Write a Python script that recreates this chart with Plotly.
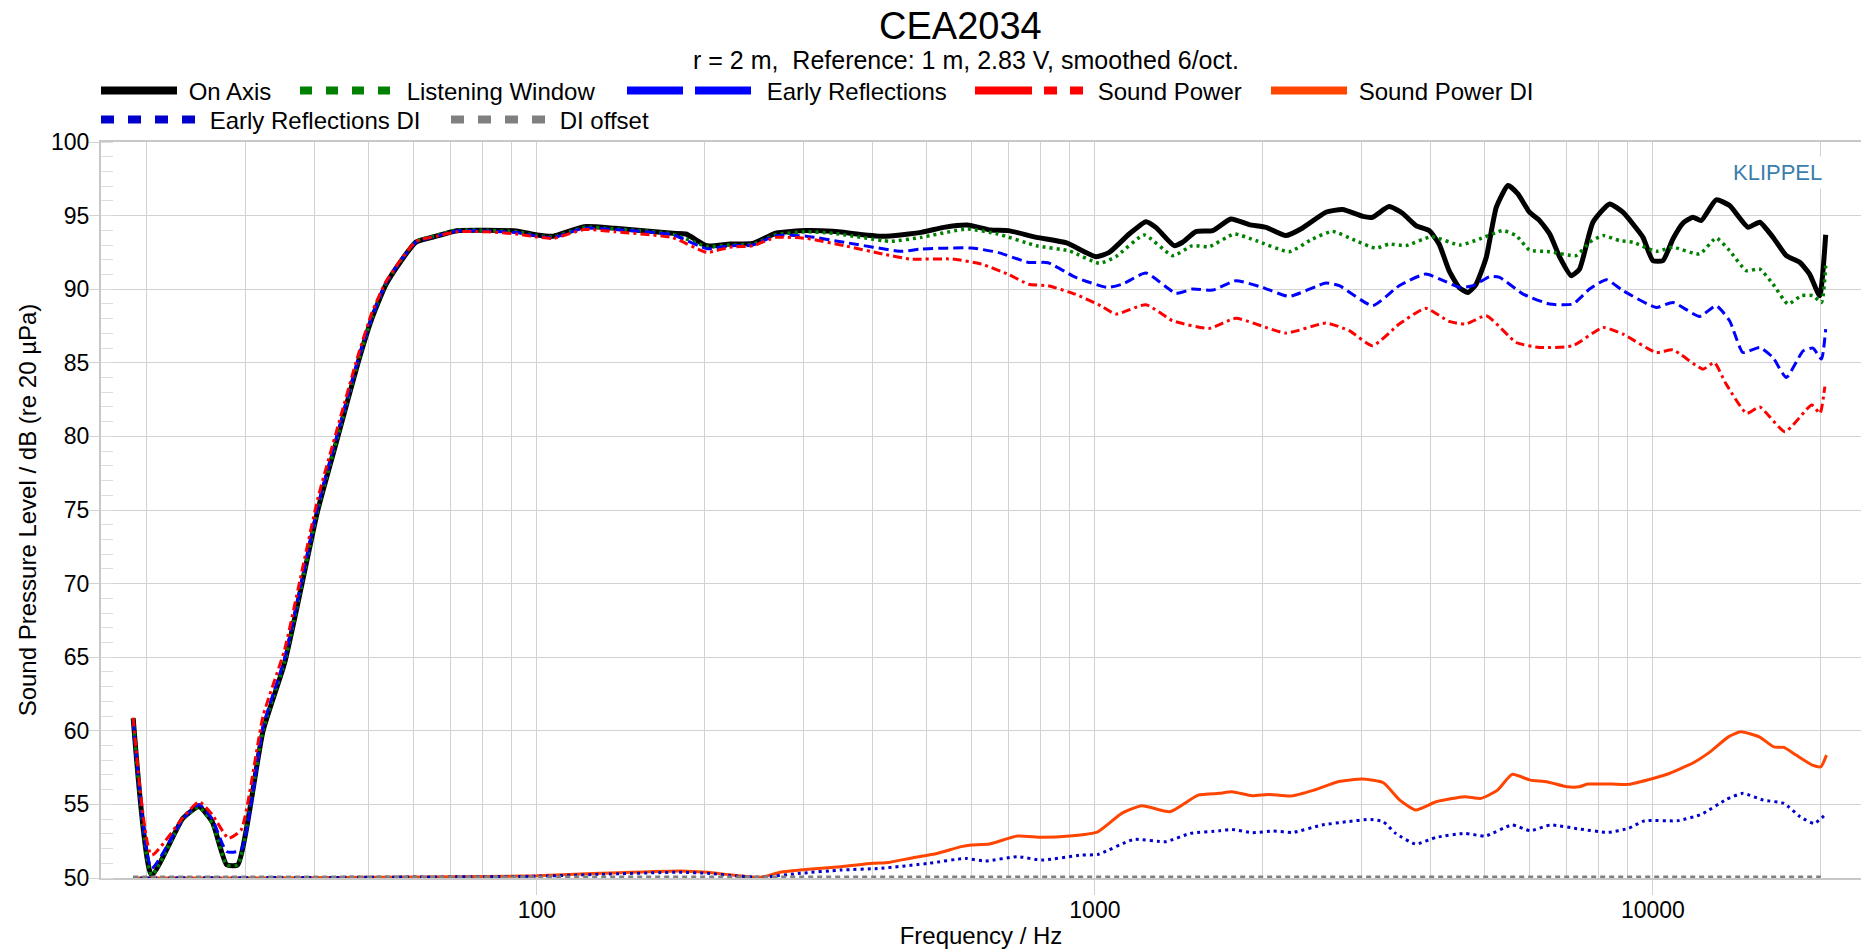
import math
import plotly.graph_objects as go

# ---------------- data ----------------
freq_on = [18.9, 20.4, 23.2, 24.8, 26.2, 27.8, 29.1, 32.3, 35.3, 37.6, 40.5, 44.0, 47.8, 50.6, 53.6, 56.8, 60.7, 66, 71.8, 81.3, 91.9,
           100, 107, 121.5, 138, 175, 185, 201.7, 221.6, 243.8, 268, 304, 339, 417, 488, 536, 590, 650, 700, 786, 890,
           1004, 1061, 1152, 1234, 1286, 1387, 1436, 1517, 1625, 1753, 1890, 2027, 2198, 2356, 2594, 2779, 3020, 3144,
           3366, 3558, 3761, 3972, 4138, 4312, 4494, 4663, 4823, 5028, 5241, 5499, 5728, 6009, 6265, 6532, 6810, 7137,
           7388, 7808, 8366, 8835, 9208, 9596, 10000, 10421, 10860, 11317, 11794, 12206, 12982, 13721, 14801, 15536,
           16411, 17340, 18321, 19090, 19893, 20400]
spl_on = [60.85, 50.2, 54.05, 54.85, 53.8, 50.9, 50.9, 60.0, 64.6, 69.3, 75.0, 80.0, 85.0, 88.0, 90.3, 91.8, 93.2, 93.6, 93.97, 94.0, 93.95,
          93.68, 93.6, 94.25, 94.14, 93.8, 93.75, 92.95, 93.07, 93.11, 93.8, 93.98, 93.93, 93.59, 93.86, 94.2, 94.36, 94.02, 93.98, 93.52, 93.14,
          92.21, 92.5, 93.75, 94.59, 94.2, 92.96, 93.19, 93.91, 93.98, 94.77, 94.39, 94.2, 93.64, 94.16, 95.23, 95.41, 94.95, 94.89,
          95.61, 95.16, 94.32, 93.98, 93.07, 91.26, 90.12, 89.78, 90.35, 92.17, 95.57, 97.04, 96.47, 95.23, 94.66, 93.75, 92.17, 90.92,
          91.37, 94.55, 95.79, 95.23, 94.43, 93.53, 91.94, 91.94, 93.41, 94.48, 94.89, 94.66, 96.07, 95.68, 94.21, 94.55,
          93.53, 92.28, 91.83, 91.03, 89.56, 93.7]

freq_lw = [18.9, 20.4, 23.2, 24.8, 26.2, 27.8, 29.1, 32.3, 35.3, 37.6, 40.5, 44.0, 47.8, 50.6, 53.6, 56.8, 60.7, 66, 71.8, 81.3, 91.9,
           100, 107, 121.5, 138, 175, 201.7, 221.6, 243.8, 268, 304, 339, 417, 431, 488, 590, 670, 786, 900,
           1018, 1090, 1226, 1378, 1496, 1603, 1777, 1944, 2229, 2455, 2664, 2932, 3189, 3366, 3606, 4016, 4507, 4890,
           5386, 5690, 6009, 6532, 7286, 7700, 8140, 8716, 9208, 10138, 10860, 12124, 12982, 13721, 14700, 15536,
           16411, 17460, 18453, 19355, 20046, 20400]
spl_lw = [60.8, 50.2, 54.0, 54.8, 53.7, 50.9, 50.9, 60.05, 64.65, 69.35, 75.05, 80.05, 85.05, 88.05, 90.35, 91.85, 93.25, 93.65, 94.0, 94.0, 93.9,
          93.65, 93.55, 94.2, 94.1, 93.75, 92.9, 93.0, 93.05, 93.7, 93.9, 93.8, 93.3, 93.25, 93.52, 94.09, 93.75, 92.95, 92.6,
          91.76, 92.21, 93.68, 92.28, 92.96, 92.89, 93.75, 93.3, 92.55, 93.41, 93.93, 93.3, 92.78, 93.07, 92.96, 93.57, 93.0, 93.41,
          93.98, 93.64, 92.66, 92.55, 92.28, 93.19, 93.64, 93.3, 93.19, 92.57, 92.85, 92.39, 93.48, 92.62, 91.26, 91.37,
          90.35, 88.99, 89.56, 89.56, 89.1, 91.6]

freq_er = [18.9, 20.4, 23.2, 24.8, 26.2, 27.8, 29.5, 32.3, 35.3, 37.6, 40.5, 44.0, 47.8, 50.6, 53.6, 56.8, 60.7, 66, 71.8, 81.3, 91.9,
           100, 107, 121.5, 138, 175, 201.7, 221.6, 243.8, 268, 304, 356, 452, 488, 600, 670, 761, 824, 924,
           1054, 1121, 1234, 1397, 1496, 1625, 1789, 1997, 2229, 2594, 2742, 3144, 3510, 3915, 4254, 4507, 4763, 5094,
           5311, 5853, 6532, 7186, 7700, 8257, 8838, 10138, 10860, 12124, 12982, 13721, 14500, 15536, 16411, 17340,
           18590, 19355, 20046, 20400]
spl_er = [60.7, 50.66, 54.0, 55.0, 54.0, 51.8, 51.9, 60.3, 64.9, 69.6, 75.3, 80.3, 85.2, 88.1, 90.4, 91.85, 93.2, 93.6, 93.95, 93.95, 93.85,
          93.6, 93.5, 94.15, 94.05, 93.7, 92.75, 92.95, 93.0, 93.64, 93.6, 93.18, 92.57, 92.73, 92.8, 92.5, 91.82, 91.8, 90.8,
          90.12, 90.35, 91.1, 89.72, 90.01, 89.94, 90.58, 90.12, 89.51, 90.42, 90.24, 88.88, 90.24, 91.03, 90.51, 90.12, 90.24, 90.85,
          90.8, 89.67, 88.99, 88.99, 90.01, 90.65, 89.9, 88.76, 89.1, 88.15, 88.88, 87.86, 85.7, 86.04, 85.36, 84.0,
          85.81, 86.0, 85.25, 87.29]

freq_sp = [18.9, 20.4, 23.2, 24.8, 26.2, 28.0, 29.5, 32.3, 35.3, 37.6, 40.5, 44.0, 47.8, 50.6, 53.6, 56.8, 60.7, 66, 71.8, 81.3, 91.9,
           100, 107, 121.5, 138, 175, 201.7, 221.6, 243.8, 268, 304, 356, 417, 466, 555, 627, 700, 761, 824, 922,
           1026, 1090, 1234, 1378, 1603, 1789, 2198, 2594, 2856, 3144, 3510, 3915, 4312, 4620, 5028, 5690, 6265,
           7186, 8140, 8838, 10138, 10860, 12290, 12880, 13530, 14720, 15540, 17250, 19260, 19920, 20330]
spl_sp = [60.9, 51.56, 54.1, 55.18, 54.3, 52.7, 53.26, 61.0, 65.5, 70.2, 75.8, 80.7, 85.5, 88.4, 90.5, 91.9, 93.25, 93.6, 93.9, 93.9, 93.75,
          93.55, 93.45, 94.05, 93.9, 93.5, 92.5, 92.85, 92.95, 93.52, 93.45, 92.95, 92.39, 92.05, 92.05, 91.7, 91.0, 90.34, 90.23, 89.66,
          88.86, 88.31, 88.95, 87.86, 87.34, 88.02, 87.02, 87.7, 87.18, 86.16, 87.63, 88.7, 87.81, 87.63, 88.2, 86.38, 86.04,
          86.16, 87.4, 86.95, 85.7, 85.88, 84.57, 85.02, 83.55, 81.57, 82.0, 80.32, 82.13, 81.57, 83.38]

freq_spdi = [18.9, 30, 50, 80, 100, 129.5, 180, 202, 224, 252, 273, 307, 350, 400, 427, 472, 521, 576, 600, 647, 726, 802, 901,
             1012, 1117, 1214, 1363, 1531, 1674, 1759, 1914, 2045, 2245, 2469, 2728, 3016, 3288, 3518, 3758, 4089, 4602,
             4922, 5267, 5592, 6028, 6448, 7017, 7381, 7633, 8447, 9040, 10000, 10698, 11837, 12660, 13654, 14366, 15509,
             16453, 17163, 18059, 19310, 20000, 20470]
spl_spdi = [50.0, 50.0, 50.05, 50.1, 50.15, 50.32, 50.48, 50.39, 50.2, 50.05, 50.39, 50.59, 50.77, 51.0, 51.06, 51.38, 51.67, 52.13, 52.24, 52.31, 52.85, 52.76, 52.85,
            53.14, 54.39, 54.91, 54.5, 55.63, 55.75, 55.86, 55.59, 55.68, 55.57, 55.97, 56.54, 56.72, 56.47, 55.29, 54.62, 55.18, 55.52,
            55.41, 55.97, 57.04, 56.65, 56.54, 56.2, 56.2, 56.38, 56.38, 56.36, 56.76, 57.1, 57.85, 58.57, 59.59, 59.93, 59.59,
            58.91, 58.87, 58.35, 57.67, 57.56, 58.35]

freq_erdi = [18.9, 50, 100, 129.5, 180, 202, 228, 252, 297, 350, 414, 504, 586, 636, 726, 802, 947, 1012, 1174, 1341, 1481,
             1674, 1759, 1914, 2086, 2263, 2554, 2821, 3120, 3288, 3459, 3758, 4089, 4602, 5006, 5592, 6028, 6553, 7381,
             8308, 9040, 9669, 11065, 12238, 13540, 14487, 15770, 17163, 18363, 19463, 20470]
spl_erdi = [50.0, 50.05, 50.12, 50.25, 50.39, 50.32, 50.14, 50.05, 50.32, 50.54, 50.66, 51.0, 51.33, 51.15, 51.45, 51.22, 51.56, 51.6, 52.62, 52.47, 53.03,
            53.21, 53.3, 53.08, 53.19, 53.1, 53.6, 53.82, 53.98, 53.82, 53.03, 52.31, 52.76, 53.03, 52.85, 53.6, 53.21, 53.6, 53.33,
            53.1, 53.37, 53.89, 53.89, 54.34, 55.34, 55.75, 55.29, 55.07, 54.16, 53.71, 54.39]

freq_dioff = [18.9, 20000]
spl_dioff = [50.0, 50.0]

series_names = ["On Axis", "Listening Window", "Early Reflections", "Sound Power",
                "Sound Power DI", "Early Reflections DI", "DI offset"]

x_major = [100, 1000, 10000]
x_minor = [20, 30, 40, 50, 60, 70, 80, 90, 200, 300, 400, 500, 600, 700, 800, 900,
           2000, 3000, 4000, 5000, 6000, 7000, 8000, 9000, 20000]
y_ticks = [50, 55, 60, 65, 70, 75, 80, 85, 90, 95, 100]

# ---------------- styling / layout ----------------
FONT = "Liberation Sans, Arial, sans-serif"
GRID = "#d2d2d2"
W, H = 1861, 952
ML, MR, MT, MB = 101, 0, 142, 74
PW, PH = W - ML - MR, H - MT - MB

def px_x(px):
    return (px - ML) / PW

def px_y(py):
    return (H - MB - py) / PH

styles = [
    dict(color="#000000", width=5, dash="solid"),
    dict(color="#008000", width=3.5, dash="3px,4px"),
    dict(color="#0000ff", width=3, dash="10px,5px"),
    dict(color="#ff0000", width=3, dash="9px,4px,3px,4px"),
    dict(color="#ff4500", width=3, dash="solid"),
    dict(color="#0000cd", width=3, dash="3px,4px"),
    dict(color="#808080", width=5, dash="5px,4px"),
]
legend_dash = ["solid", "12px,14px", "56px,12px", "57px,12px,13px,13px,13px,30px", "solid",
               "13px,14px", "13px,14px"]
# legend symbol start (px), row centre (px), symbol length (px)
legend_pos = [(101, 90, 73), (300, 90, 92), (627, 90, 125), (975, 90, 108), (1271, 90, 73),
              (101, 119, 94), (451, 119, 94)]

data = [(freq_on, spl_on), (freq_lw, spl_lw), (freq_er, spl_er), (freq_sp, spl_sp),
        (freq_spdi, spl_spdi), (freq_erdi, spl_erdi), (freq_dioff, spl_dioff)]

fig = go.Figure()
for (fx, fy), st, nm in zip(data, styles, series_names):
    fig.add_trace(go.Scatter(x=fx, y=fy, mode="lines", name=nm, showlegend=False,
                             line=dict(color=st["color"], width=st["width"], dash=st["dash"],
                                       shape="spline", smoothing=0.5),
                             hoverinfo="x+y+name"))

legend_layouts = {}
for i, (st, nm, ld, (lx, ly, ll)) in enumerate(zip(styles, series_names, legend_dash, legend_pos)):
    key = "legend" if i == 0 else f"legend{i + 1}"
    fig.add_trace(go.Scatter(x=[None], y=[None], mode="lines", name="\u00a0" + nm, legend=key,
                             line=dict(color=st["color"], width=8, dash=ld)))
    legend_layouts[key] = dict(orientation="h", x=px_x(lx - 5), xanchor="left",
                               y=px_y(ly - 21.5), yanchor="top",
                               font=dict(size=24, family=FONT, color="#000000"), itemwidth=ll + 3,
                               bgcolor="rgba(0,0,0,0)", itemclick=False, itemdoubleclick=False)

fig.update_layout(
    width=W, height=H,
    margin=dict(l=ML, r=MR, t=MT, b=MB, autoexpand=False),
    paper_bgcolor="white", plot_bgcolor="white",
    font=dict(family=FONT, color="#000000"),
    showlegend=True,
    xaxis=dict(type="log", range=[math.log10(16.55), math.log10(23600)],
               tickmode="array", tickvals=x_major, ticktext=[str(v) for v in x_major],
               ticks="outside", ticklen=15, tickcolor=GRID, tickwidth=1, ticklabelstandoff=-5,
               showgrid=True, gridcolor=GRID, gridwidth=1,
               minor=dict(tickmode="array", tickvals=x_minor, showgrid=True, gridcolor=GRID, gridwidth=1, ticks=""),
               showline=True, linecolor="#c8c8c8", linewidth=2, mirror=True, layer="below traces",
               tickfont=dict(size=23, family=FONT),
               title=dict(text="Frequency / Hz", font=dict(size=24, family=FONT), standoff=6),
               zeroline=False, automargin=False),
    yaxis=dict(range=[50, 100], tickmode="array", tickvals=y_ticks,
               ticks="outside", ticklen=10, tickcolor=GRID, tickwidth=1, ticklabelstandoff=-5,
               showgrid=True, gridcolor=GRID, gridwidth=1,
               minor=dict(dtick=1, ticks="inside", ticklen=12, tickcolor="#dcdcdc", showgrid=False),
               showline=True, linecolor="#c8c8c8", linewidth=2, mirror=True, layer="below traces",
               tickfont=dict(size=23, family=FONT),
               title=dict(text="Sound Pressure Level / dB (re 20 µPa)", font=dict(size=24, family=FONT), standoff=8),
               zeroline=False, automargin=False),
    annotations=[
        dict(text="CEA2034", xref="paper", yref="paper", x=px_x(960), y=px_y(26), xanchor="center", yanchor="middle",
             showarrow=False, font=dict(size=38, family=FONT)),
        dict(text="r = 2 m,\u00a0 Reference: 1 m, 2.83 V, smoothed 6/oct.", xref="paper", yref="paper",
             x=px_x(966), y=px_y(60), xanchor="center", yanchor="middle", showarrow=False,
             font=dict(size=25, family=FONT)),
        dict(text="KLIPPEL", xref="paper", yref="paper", x=px_x(1826), y=px_y(172), xanchor="right", yanchor="middle",
             showarrow=False, bgcolor="white", borderpad=3, font=dict(size=22, family=FONT, color="#3b7dab")),
    ],
)
fig.update_layout(**legend_layouts)

fig.write_html("out.html", config={"displayModeBar": False},
               post_script="document.body.style.margin='0px'; document.body.style.overflow='hidden';")
